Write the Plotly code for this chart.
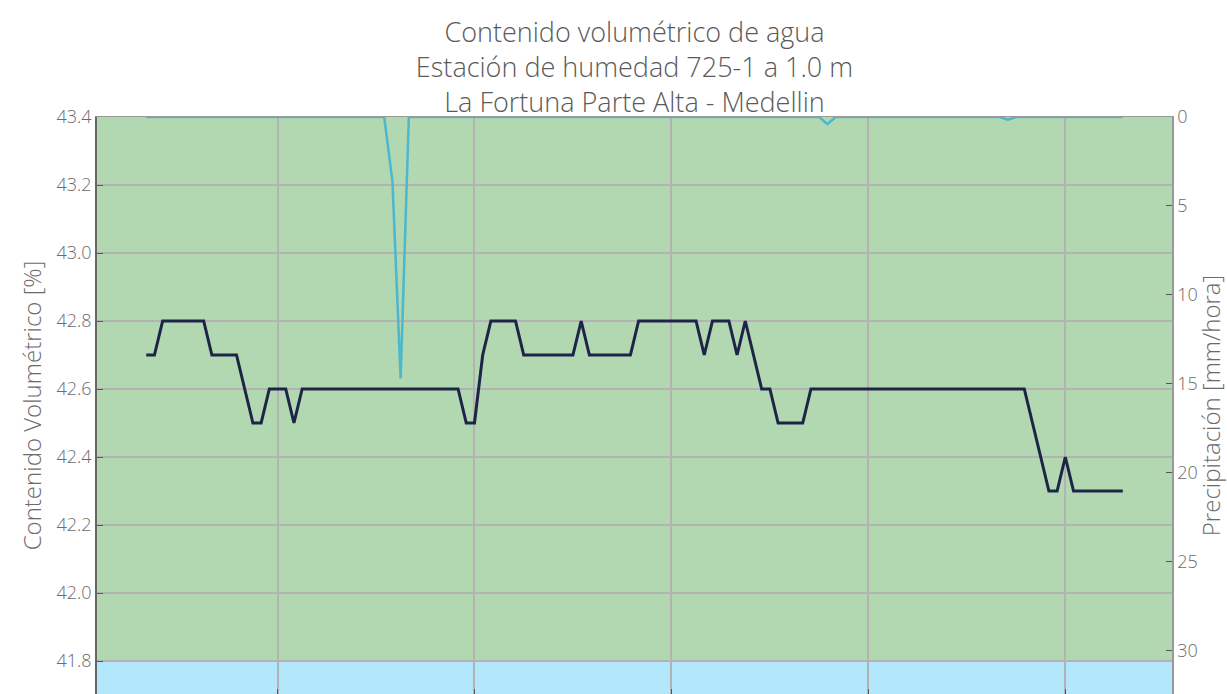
import pandas as pd
import plotly.graph_objects as go

# Serie horaria de la estación
fechas = pd.date_range("2021-03-15 08:00", periods=120, freq="h")

humedad = (
    [42.7, 42.7]
    + [42.8] * 6
    + [42.7] * 4
    + [42.6]
    + [42.5] * 2
    + [42.6] * 3
    + [42.5]
    + [42.6] * 20
    + [42.5] * 2
    + [42.7]
    + [42.8] * 4
    + [42.7] * 7
    + [42.8]
    + [42.7] * 6
    + [42.8] * 8
    + [42.7]
    + [42.8] * 3
    + [42.7]
    + [42.8]
    + [42.7]
    + [42.6] * 2
    + [42.5] * 4
    + [42.6] * 27
    + [42.5]
    + [42.4]
    + [42.3] * 2
    + [42.4]
    + [42.3] * 7
)

precipitacion = [0.0] * 120
precipitacion[30] = 3.6
precipitacion[31] = 14.7
precipitacion[83] = 0.4
precipitacion[105] = 0.15

titulo = [
    "Contenido volumétrico de agua",
    "Estación de humedad 725-1 a 1.0 m",
    "La Fortuna Parte Alta - Medellin",
]

umbral_inferior = 41.8
rango_humedad = [41.703, 43.4]
rango_precip = [32.45, 0]
rango_x = [fechas[0] - pd.Timedelta(hours=6), fechas[-1] + pd.Timedelta(hours=6)]

fuente = "Open Sans"
gris = "#6b6b6b"

fig = go.Figure()

fig.add_trace(go.Scatter(
    x=fechas, y=humedad, mode="lines", name="Contenido volumétrico",
    line=dict(color="#1e2348", width=3), yaxis="y",
))
fig.add_trace(go.Scatter(
    x=fechas, y=precipitacion, mode="lines", name="Precipitación",
    line=dict(color="#4db8cc", width=2.5), yaxis="y2",
))

# Bandas de fondo
fig.add_shape(type="rect", xref="paper", yref="y", x0=0, x1=1,
              y0=umbral_inferior, y1=44.0, fillcolor="#b2d8b2",
              line_width=0, layer="below")
fig.add_shape(type="rect", xref="paper", yref="y", x0=0, x1=1,
              y0=41.0, y1=umbral_inferior, fillcolor="#b3e8fc",
              line_width=0, layer="below")

fig.update_layout(
    width=1227, height=694,
    margin=dict(l=97, r=55, t=117, b=0, autoexpand=False),
    paper_bgcolor="white", plot_bgcolor="white",
    showlegend=False,
    font=dict(family=fuente, color=gris, weight=300),
    title=dict(
        text="<br>".join(titulo),
        x=0.5, xref="paper", xanchor="center",
        y=0.94, yref="container", yanchor="top",
        font=dict(family=fuente, size=27, color="#5a5a5a", weight=300),
        automargin=False,
    ),
    xaxis=dict(
        range=rango_x, showgrid=True, gridcolor="#b3b3b3", gridwidth=1.5,
        dtick=86400000, tick0="2021-03-15",
        ticks="inside", ticklen=5, tickcolor="#555",
        showline=True, linecolor="#999", mirror=True,
        showticklabels=False, zeroline=False, automargin=False,
    ),
    yaxis=dict(
        range=rango_humedad, tick0=41.8, dtick=0.2, tickformat=".1f",
        showgrid=True, gridcolor="#b3b3b3", gridwidth=1.5,
        ticks="inside", ticklen=6, tickcolor="#555",
        showline=True, linecolor="#666", linewidth=1.5,
        tickfont=dict(size=18, color=gris),
        title=dict(text="Contenido Volumétrico [%]", font=dict(size=24, color=gris), standoff=8),
        zeroline=False, automargin=False,
    ),
    yaxis2=dict(
        range=rango_precip, overlaying="y", side="right",
        tick0=0, dtick=5, showgrid=False,
        ticks="inside", ticklen=6, tickcolor="#555",
        showline=True, linecolor="#999", linewidth=1.5,
        tickfont=dict(size=18, color=gris),
        title=dict(text="Precipitación [mm/hora]", font=dict(size=24, color=gris), standoff=10),
        zeroline=False, automargin=False,
    ),
)

fig.write_html("out.html")
